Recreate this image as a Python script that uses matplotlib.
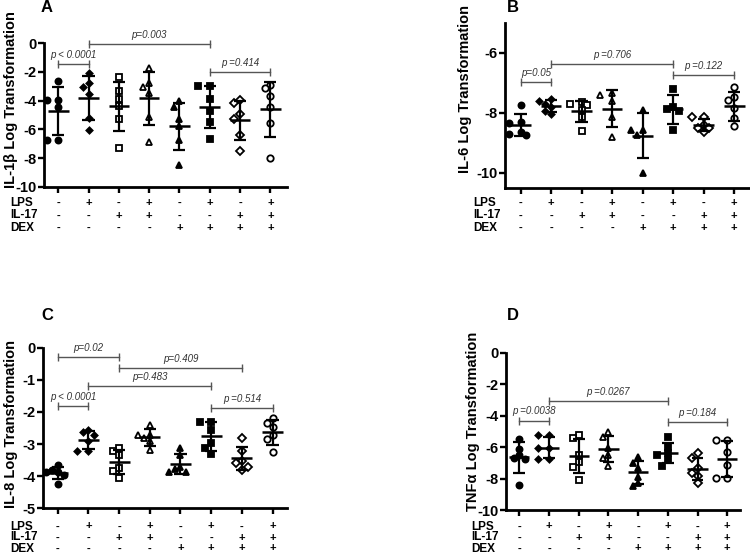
import matplotlib
matplotlib.use("Agg")
import matplotlib.pyplot as plt
import numpy as np

plt.rcParams['font.family'] = ['Liberation Sans', 'DejaVu Sans']
plt.rcParams['axes.unicode_minus'] = False

# treatment table under each panel
lps = ['-', '+', '-', '+', '-', '+', '-', '+']
il17 = ['-', '-', '+', '+', '-', '-', '+', '+']
dex = ['-', '-', '-', '-', '+', '+', '+', '+']

# log transformed values, one list per group
il1b = [
    [-2.6, -3.95, -3.95, -4.45, -6.75, -6.75],
    [-2.05, -2.8, -3.07, -3.53, -5.23, -6.05],
    [-2.33, -3.33, -3.86, -4.37, -5.26, -7.28],
    [-1.74, -2.74, -3.07, -3.44, -5.16, -6.86],
    [-4.02, -4.42, -5.3, -5.74, -6.74, -8.49],
    [-3.0, -3.0, -3.9, -4.7, -5.5, -6.7],
    [-3.95, -4.19, -4.93, -5.3, -6.42, -7.51],
    [-2.9, -3.1, -3.65, -4.47, -5.53, -8.0],
]
il6 = [
    [-7.75, -8.3, -8.35, -8.65, -8.7, -8.75],
    [-7.55, -7.6, -7.7, -7.8, -7.95, -8.05],
    [-7.65, -7.7, -7.75, -7.9, -8.15, -8.6],
    [-7.36, -7.41, -7.6, -8.16, -8.8],
    [-7.91, -8.58, -8.58, -8.74, -10.0],
    [-7.21, -7.82, -7.89, -7.93, -8.58],
    [-8.16, -8.16, -8.41, -8.52, -8.52, -8.63],
    [-7.13, -7.47, -7.58, -7.86, -8.19, -8.44],
]
il8 = [
    [-3.65, -3.8, -3.86, -3.88, -3.96, -4.25],
    [-2.56, -2.61, -2.72, -2.9, -3.21, -3.21],
    [-3.13, -3.21, -3.34, -3.73, -3.85, -4.06],
    [-2.4, -2.72, -2.72, -2.82, -2.92, -3.18],
    [-3.11, -3.34, -3.7, -3.78, -3.88, -3.86],
    [-2.3, -2.3, -2.56, -2.97, -3.13, -3.32],
    [-2.82, -3.23, -3.54, -3.6, -3.7, -3.8],
    [-2.2, -2.35, -2.46, -2.72, -2.84, -3.25],
]
tnfa = [
    [-5.5, -6.1, -6.5, -6.7, -6.75, -8.4],
    [-5.23, -5.23, -6.08, -6.08, -6.78, -6.78],
    [-5.23, -5.44, -6.5, -6.93, -7.29, -8.09],
    [-5.02, -5.38, -6.08, -6.5, -6.72, -7.2],
    [-6.65, -7.03, -7.35, -7.88, -8.3, -8.45],
    [-5.38, -5.97, -6.4, -6.5, -6.82, -7.2],
    [-6.4, -6.72, -7.35, -7.67, -7.84, -8.26],
    [-5.55, -5.55, -6.29, -7.14, -7.99, -7.99],
]

# comparisons: (group a, group b, bracket height, label)
il1b_p = [(1, 2, -1.47, 'p < 0.0001'), (2, 6, -0.05, 'p=0.003'), (6, 8, -1.98, 'p =0.414')]
il6_p = [(1, 2, -6.97, 'p=0.05'), (2, 6, -6.39, 'p =0.706'), (6, 8, -6.74, 'p =0.122')]
il8_p = [(1, 3, -0.3, 'p=0.02'), (3, 7, -0.64, 'p=0.409'), (2, 6, -1.19, 'p=0.483'),
         (1, 2, -1.81, 'p < 0.0001'), (6, 8, -1.87, 'p =0.514')]
tnfa_p = [(1, 2, -4.32, 'p =0.0038'), (2, 6, -3.07, 'p =0.0267'), (6, 8, -4.39, 'p =0.184')]

markers = ['o', 'D', 's', '^', '^', 's', 'D', 'o']
filled = [True, True, False, False, True, True, False, False]
sizes = [4.4, 3.2, 4.3, 4.5, 4.2, 4.3, 3.6, 4.6]

W, H = 750, 555
fig = plt.figure(figsize=(W / 100, H / 100), dpi=100)


def px_axes(x0, x1, y0, y1):
    return fig.add_axes([x0 / W, 1 - y1 / H, (x1 - x0) / W, (y1 - y0) / H])


def swarm(ax, vals, xc, step=0.19, min_px=6.0):
    # spread overlapping points sideways like a column scatter
    placed, xs = [], []
    for v in vals:
        for off in [0, -step, step, -2 * step, 2 * step]:
            p = ax.transData.transform((xc + off, v))
            if all(np.hypot(*(p - q)) >= min_px for q in placed):
                break
        placed.append(p)
        xs.append(xc + off)
    return xs


def panel(box, data, ylim, yticks, xlim, comps, ylabel, ylab_xy, letter, letter_xy, rows_xy):
    ax = px_axes(*box)
    ax.set_xlim(*xlim)
    ax.set_ylim(*ylim)
    for s in ['top', 'right']:
        ax.spines[s].set_visible(False)
    for s in ['left', 'bottom']:
        ax.spines[s].set_linewidth(2)
    ax.set_yticks(yticks)
    ax.set_yticklabels([str(t) for t in yticks], fontweight='bold', fontsize=10.5)
    ax.set_xticks(range(1, 9))
    ax.set_xticklabels([])
    ax.tick_params(width=1.7, length=4.5, pad=1)

    for i, vals in enumerate(data):
        xc = i + 1
        v = np.array(vals)
        m, sd = v.mean(), v.std(ddof=1)
        xs = swarm(ax, vals, xc)
        ax.plot(xs, vals, ls='none', marker=markers[i], ms=sizes[i], mew=1.3,
                mfc='black' if filled[i] else 'white', mec='black', zorder=2)
        ax.hlines(m, xc - 0.34, xc + 0.34, color='black', lw=1.8, zorder=3)
        ax.vlines(xc, m - sd, m + sd, color='black', lw=1.6, zorder=3)
        ax.hlines([m - sd, m + sd], xc - 0.2, xc + 0.2, color='black', lw=1.6, zorder=3)

    for a, b, y, lab in comps:
        ax.plot([a, b], [y, y], color='#555555', lw=1, clip_on=False)
        ax.plot([a, b], [y, y], ls='none', marker='|', ms=6, mew=1, color='#555555', clip_on=False)
        ax.annotate(lab, xy=((a + b) / 2, y), xytext=(0, 3), textcoords='offset points',
                    ha='center', va='bottom', style='italic', fontsize=7, color='#333333',
                    annotation_clip=False)

    fig.text(ylab_xy[0] / W, 1 - ylab_xy[1] / H, ylabel, rotation=90, ha='center', va='center',
             fontweight='bold', fontsize=10.5)
    fig.text(letter_xy[0] / W, 1 - letter_xy[1] / H, letter, ha='center', va='center',
             fontweight='bold', fontsize=12)

    rx, ry, dy = rows_xy
    for k, (name, signs) in enumerate([('LPS', lps), ('IL-17', il17), ('DEX', dex)]):
        yy = 1 - (ry + k * dy) / H
        fig.text(rx / W, yy, name, ha='left', va='center', fontweight='bold', fontsize=8.5)
        for j, s in enumerate(signs):
            xd = ax.transData.transform((j + 1, 0))[0]
            fig.text(xd / W, yy, s, ha='center', va='center', fontweight='bold', fontsize=8)
    return ax


panel((44, 287, 43.3, 186.7), il1b, (-10, 0), [0, -2, -4, -6, -8, -10], (0.53, 8.55),
      il1b_p, 'IL-1β Log Transformation', (11, 100), 'A', (47, 7), (10, 203, 12.5))
panel((505, 750, 22.7, 187.7), il6, (-10.5, -5), [-6, -8, -10], (0.49, 8.52),
      il6_p, 'IL-6 Log Transformation', (465, 89), 'B', (513, 7), (473, 203, 12.5))
panel((43, 287, 347.7, 508.3), il8, (-5, 0), [0, -1, -2, -3, -4, -5], (0.52, 8.47),
      il8_p, 'IL-8 Log Transformation', (11, 424), 'C', (47, 315), (10, 526.5, 11))
panel((506, 740, 352.7, 510), tnfa, (-10, 0), [0, -2, -4, -6, -8, -10], (0.55, 8.43),
      tnfa_p, 'TNFα Log Transformation', (473, 421), 'D', (513, 315), (471, 526.5, 11))

fig.savefig('out.png', dpi=100)
